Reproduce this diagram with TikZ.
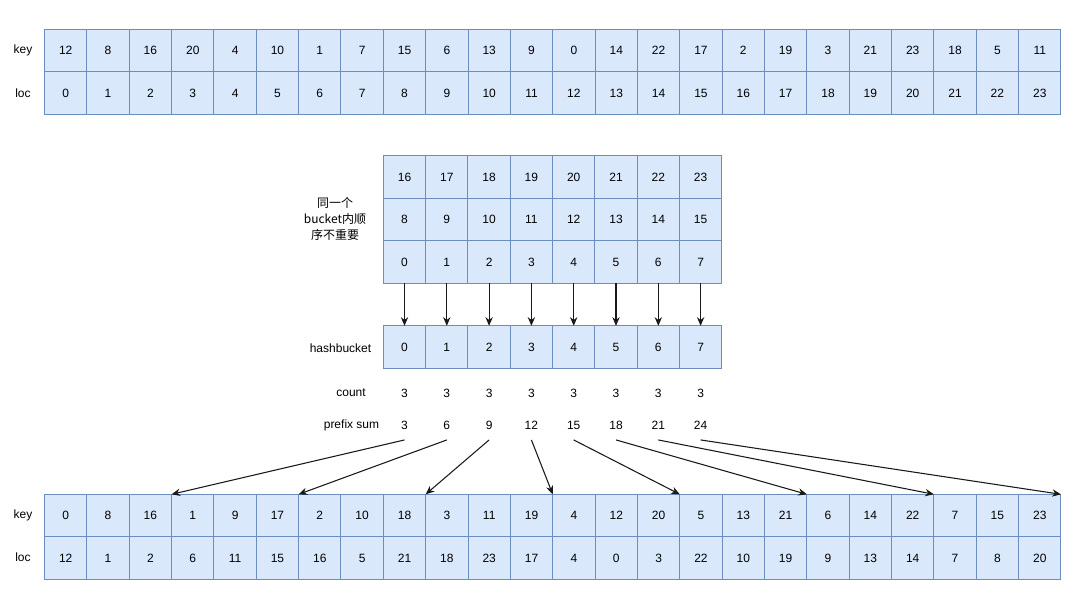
\documentclass[tikz,border=0pt]{standalone}
\usepackage{fontspec}
\setmainfont{Liberation Sans}
\newfontfamily\cjk{Noto Sans CJK SC}
\usetikzlibrary{arrows.meta}
\definecolor{cellfill}{HTML}{DAE8FC}
\definecolor{celldraw}{HTML}{6C8EBF}
\tikzset{
  cell/.style={draw=celldraw, fill=cellfill, line width=0.75pt,
    minimum width=31.76pt, minimum height=31.8pt, inner sep=0pt, outer sep=0pt,
    text height=6.6pt, text depth=0pt,
    font=\fontsize{9}{11}\selectfont},
  lbl/.style={inner sep=0pt, font=\fontsize{9}{11}\selectfont},
  num/.style={lbl, text height=6.6pt, text depth=0pt},
  arr/.style={-{Stealth[length=6.5pt,width=5.5pt]}, line width=0.8pt, draw=black!90},
}
\begin{document}
\begin{tikzpicture}[x=0.75pt, y=-0.75pt]
\useasboundingbox (0,0) rectangle (1080,600);
% top table
\node[lbl] (tkey) at (23,50.5) {key};
\node[lbl] (tloc) at (23,92.9) {loc};
\foreach \k [count=\i from 0] in {12,8,16,20,4,10,1,7,15,6,13,9,0,14,22,17,2,19,3,21,23,18,5,11}
  \node[cell] (tk-\i) at ({65.7+42.35*\i},50.5) {\k};
\foreach \i in {0,...,23}
  \node[cell] (tl-\i) at ({65.7+42.35*\i},92.9) {\i};
% middle table
\foreach \i in {0,...,7}{
  \pgfmathtruncatemacro\a{\i+16}
  \pgfmathtruncatemacro\b{\i+8}
  \node[cell] (m1-\i) at ({404.5+42.3*\i},177) {\a};
  \node[cell] (m2-\i) at ({404.5+42.3*\i},219.4) {\b};
  \node[cell] (m3-\i) at ({404.5+42.3*\i},261.8) {\i};
  \node[cell] (h-\i) at ({404.5+42.3*\i},347) {\i};
  \node[num] (c-\i) at ({404.5+42.3*\i},393) {3};
}
\node[lbl, align=center, font=\cjk\fontsize{9}{12}\selectfont] (note) at (335,219) {同一个\\bucket内顺\\序不重要};
\node[lbl] (hlbl) at (340.5,348) {hashbucket};
\node[lbl] (clbl) at (351,393) {count};
\node[lbl] (plbl) at (351.5,425) {prefix sum};
\foreach \p [count=\i from 0] in {3,6,9,12,15,18,21,24}
  \node[num, minimum height=22pt] (ps-\i) at ({404.5+42.3*\i},425) {\p};
\foreach \i in {0,...,7}
  \draw[arr] (m3-\i) -- (h-\i);
% bottom table
\node[lbl] (bkey) at (23,515.5) {key};
\node[lbl] (bloc) at (23,557.5) {loc};
\foreach \k [count=\i from 0] in {0,8,16,1,9,17,2,10,18,3,11,19,4,12,20,5,13,21,6,14,22,7,15,23}
  \node[cell] (bk-\i) at ({65.7+42.35*\i},515.5) {\k};
\foreach \k [count=\i from 0] in {12,1,2,6,11,15,16,5,21,18,23,17,4,0,3,22,10,19,9,13,14,7,8,20}
  \node[cell] (bl-\i) at ({65.7+42.35*\i},557.9) {\k};
\foreach \i in {0,...,7}{
  \pgfmathtruncatemacro\j{3*\i+2}
  \draw[arr] (ps-\i.south) -- (bk-\j.north east);
}
\end{tikzpicture}
\end{document}
